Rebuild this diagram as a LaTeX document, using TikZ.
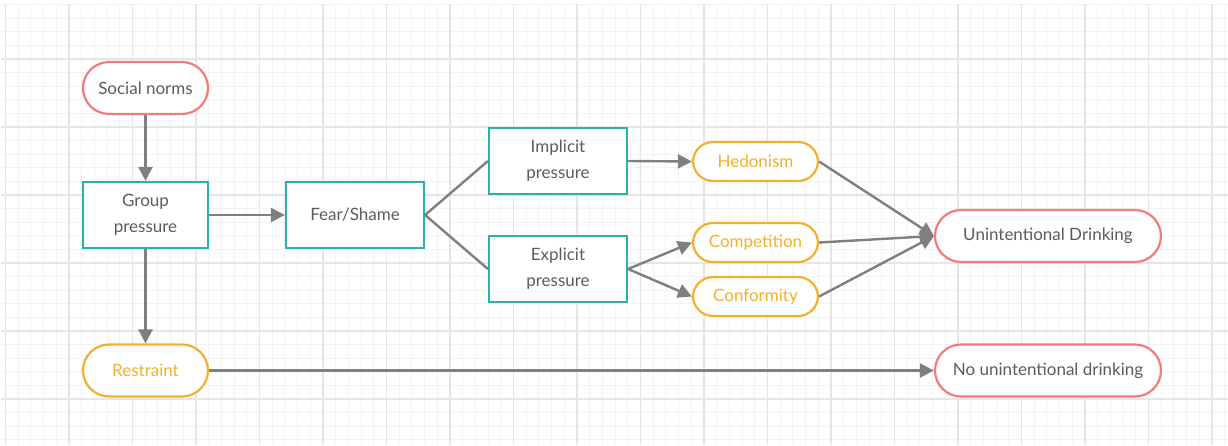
\documentclass[tikz,border=0pt]{standalone}
\usepackage{fontspec}
\setmainfont{Lato}
\usetikzlibrary{arrows.meta}
\definecolor{gridmajor}{HTML}{E6E6E6}
\definecolor{gridminor}{HTML}{F3F3F3}
\definecolor{tealc}{HTML}{2BB0AE}
\definecolor{redc}{HTML}{F27B7B}
\definecolor{orangec}{HTML}{F3B02C}
\definecolor{textc}{HTML}{5C5C5C}
\definecolor{linkc}{HTML}{7F7F7F}
\tikzset{
  lbl/.style={font=\fontsize{17}{26}\selectfont},
  box/.style={lbl, draw=tealc, line width=2.2pt, fill=white, minimum width=138pt,
    minimum height=66pt, align=center, text=textc},
  pillred/.style={lbl, draw=redc, line width=2.2pt, fill=white, rounded corners=26pt,
    minimum height=52pt, text=textc},
  pillorange/.style={lbl, draw=orangec, line width=2.2pt, fill=white, rounded corners=20pt,
    minimum width=125pt, minimum height=39pt, text=orangec},
  link/.style={draw=linkc, line width=2.4pt},
  arrowlink/.style={link, -{Triangle[length=14pt,width=14pt]}},
}
\begin{document}
\begin{tikzpicture}[x=1pt,y=-1pt]
\useasboundingbox (0,0) rectangle (1228,445);
% background grid
\begin{scope}
\clip (1,4) rectangle (1228,445);
\foreach \i in {0,...,97} {
  \draw[gridminor, line width=1pt] (5.5+12.7*\i,0) -- (5.5+12.7*\i,445);
}
\foreach \j in {0,...,34} {
  \draw[gridminor, line width=1pt] (0,-9+13.6*\j) -- (1228,-9+13.6*\j);
}
\foreach \i in {0,...,19} {
  \draw[gridmajor, line width=1.5pt] (5.5+63.5*\i,0) -- (5.5+63.5*\i,445);
}
\foreach \j in {0,...,7} {
  \draw[gridmajor, line width=1.5pt] (0,-9+68*\j) -- (1228,-9+68*\j);
}
\end{scope}

% nodes
\node[pillred, minimum width=125pt] (social) at (145.5,88) {Social norms};
\node[box, minimum width=125pt] (group) at (145.5,215) {Group\\pressure};
\node[box] (fear) at (355,215) {Fear/Shame};
\node[box] (implicit) at (558,161) {Implicit\\pressure};
\node[box] (explicit) at (558,269) {Explicit\\pressure};
\node[pillorange] (hedonism) at (755.5,161.5) {Hedonism};
\node[pillorange] (competition) at (755.5,242.5) {Competition};
\node[pillorange] (conformity) at (755.5,296.5) {Conformity};
\node[pillred, minimum width=226pt] (unint) at (1048,236) {Unintentional Drinking};
\node[pillred, minimum width=125pt, text=orangec, draw=orangec] (restraint) at (145.5,370.5) {Restraint};
\node[pillred, minimum width=226pt] (nounint) at (1048,370.5) {No unintentional drinking};

% connectors
\draw[arrowlink] (social) -- (group);
\draw[arrowlink] (group) -- (fear);
\draw[link] (fear.east) -- (implicit.west);
\draw[link] (fear.east) -- (explicit.west);
\draw[arrowlink] (implicit.east) -- (hedonism.west);
\draw[arrowlink] (explicit.east) -- (competition.west);
\draw[arrowlink] (explicit.east) -- (conformity.west);
\draw[arrowlink] (hedonism.east) -- (unint.west);
\draw[arrowlink] (competition.east) -- (unint.west);
\draw[arrowlink] (conformity.east) -- (unint.west);
\draw[arrowlink] (group) -- (restraint);
\draw[arrowlink] (restraint) -- (nounint);
\end{tikzpicture}
\end{document}
